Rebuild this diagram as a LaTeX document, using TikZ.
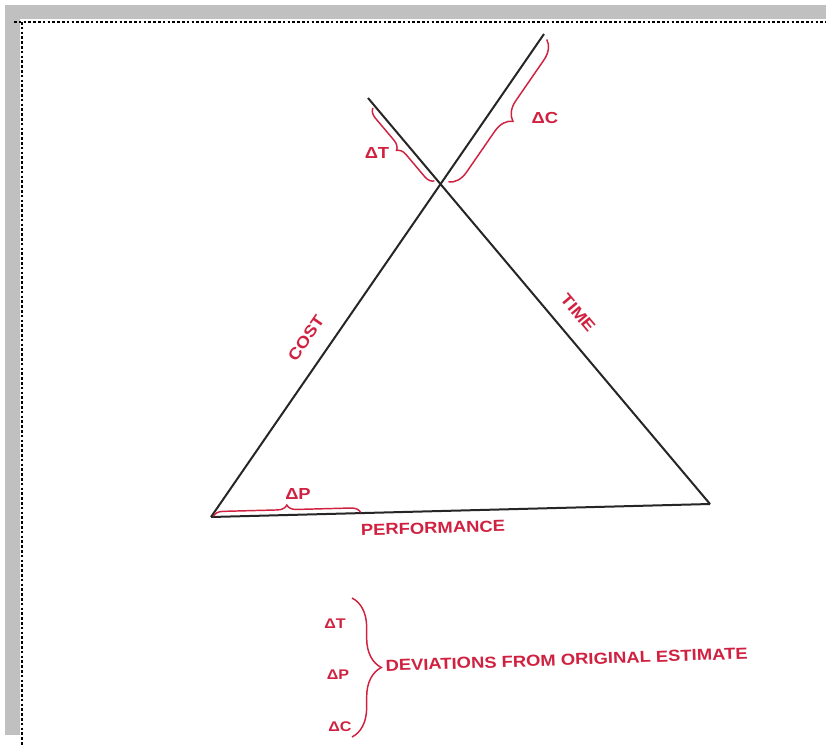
\documentclass[tikz,border=0pt]{standalone}
\usepackage{fontspec}
\newfontfamily\lblfont{Liberation Sans}[FakeStretch=1.15]
\usetikzlibrary{calc,decorations.pathreplacing}
\definecolor{inkred}{RGB}{208,34,64}
\definecolor{framegray}{RGB}{192,192,192}

\begin{document}
\begin{tikzpicture}[
  x=0.75pt,
  y=-0.75pt,
  side/.style={draw=black!85, line width=1.5pt},
  brc/.style={draw=inkred, line width=1.1pt, decorate},
  lbl/.style={text=inkred, font=\lblfont\bfseries\fontsize{12}{14}\selectfont, inner sep=1pt},
  small/.style={lbl, font=\lblfont\bfseries\fontsize{10.5}{12}\selectfont},
  dotline/.style={draw=black, line width=1.8pt, dash pattern=on 2pt off 1.6pt}
]
\useasboundingbox (0,0) rectangle (826,747);
\fill[white] (0,0) rectangle (826,747);

% scanned page frame
\fill[framegray] (5,5) rectangle (826,19);
\fill[framegray] (5,5) rectangle (20,735);
\draw[dotline] (14,22) -- (826,22);
\draw[dotline] (22,22) -- (22,747);

% corners of the triangle
\coordinate (pl)   at (211,517);
\coordinate (pr)   at (710,504);
\coordinate (ctop) at (544,34);
\coordinate (ttop) at (368,98);

\draw[side] (pl) -- (ctop);
\draw[side] (ttop) -- (pr);
\draw[side] (pl) -- (pr);

\node[lbl, rotate=55.4]  (cost) at (306,338) {COST};
\node[lbl, rotate=-49.9] (time) at (578,313) {TIME};
\node[lbl, rotate=1.5]   (perf) at (433,528) {PERFORMANCE};

% deviations on each side
\draw[brc, decoration={brace, amplitude=7pt, raise=2pt}] ($(ttop)!0.20!(pr)$) -- ($(ttop)!0.02!(pr)$);
\node[lbl] (dt) at (377,153) {ΔT};
\draw[brc, decoration={brace, amplitude=14pt, raise=4pt}] ($(pl)!0.995!(ctop)$) -- ($(pl)!0.70!(ctop)$);
\node[lbl] (dc) at (545,118) {ΔC};
\draw[brc, decoration={brace, amplitude=7pt, raise=0.5pt}] ($(pl)!0.005!(pr)$) -- ($(pl)!0.30!(pr)$);
\node[lbl] (dp) at (298,494) {ΔP};

% key
\node[small] (kt) at (335,624) {ΔT};
\node[small] (kp) at (338,675) {ΔP};
\node[small] (kc) at (340,727) {ΔC};
\coordinate (ktop) at (352,598);
\coordinate (kbot) at (352,737);
\draw[brc, decoration={brace, amplitude=22pt}] (ktop) -- (kbot);
\node[lbl, anchor=west, rotate=2] (dev) at (384,666) {DEVIATIONS FROM ORIGINAL ESTIMATE};
\end{tikzpicture}
\end{document}
